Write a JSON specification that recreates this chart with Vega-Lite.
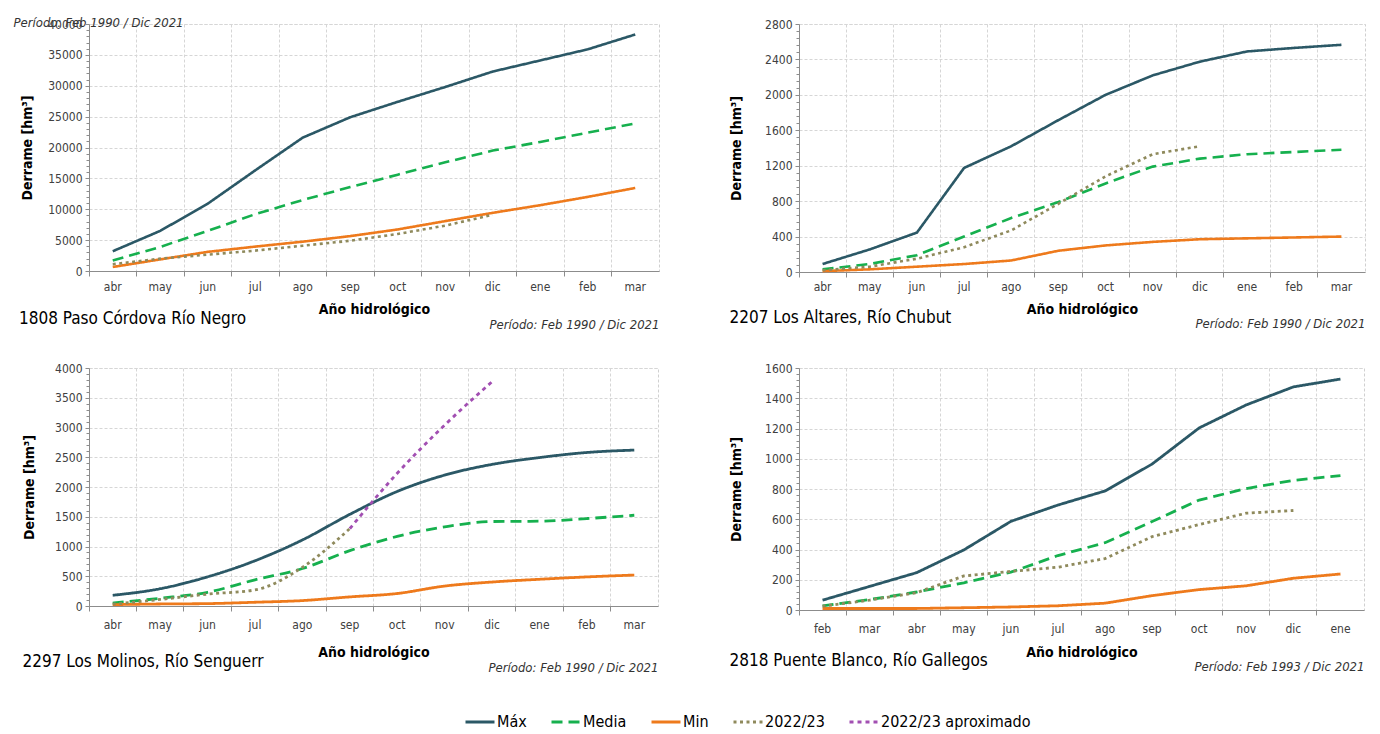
{
  "$schema": "https://vega.github.io/schema/vega-lite/v6.json",
  "padding": {"left": 12, "top": 15, "right": 5, "bottom": 5},
  "background": "white",
  "spacing": 29,
  "datasets": {
    "p1": [
      {"mes": "abr", "serie": "Máx", "v": 3200}, {"mes": "may", "serie": "Máx", "v": 6500}, {"mes": "jun", "serie": "Máx", "v": 10900}, {"mes": "jul", "serie": "Máx", "v": 16300}, {"mes": "ago", "serie": "Máx", "v": 21600}, {"mes": "sep", "serie": "Máx", "v": 24900}, {"mes": "oct", "serie": "Máx", "v": 27400}, {"mes": "nov", "serie": "Máx", "v": 29800}, {"mes": "dic", "serie": "Máx", "v": 32300}, {"mes": "ene", "serie": "Máx", "v": 34100}, {"mes": "feb", "serie": "Máx", "v": 35900}, {"mes": "mar", "serie": "Máx", "v": 38300},
      {"mes": "abr", "serie": "Media", "v": 1700}, {"mes": "may", "serie": "Media", "v": 3900}, {"mes": "jun", "serie": "Media", "v": 6500}, {"mes": "jul", "serie": "Media", "v": 9200}, {"mes": "ago", "serie": "Media", "v": 11500}, {"mes": "sep", "serie": "Media", "v": 13600}, {"mes": "oct", "serie": "Media", "v": 15600}, {"mes": "nov", "serie": "Media", "v": 17600}, {"mes": "dic", "serie": "Media", "v": 19500}, {"mes": "ene", "serie": "Media", "v": 20900}, {"mes": "feb", "serie": "Media", "v": 22400}, {"mes": "mar", "serie": "Media", "v": 23900},
      {"mes": "abr", "serie": "Min", "v": 650}, {"mes": "may", "serie": "Min", "v": 1880}, {"mes": "jun", "serie": "Min", "v": 3100}, {"mes": "jul", "serie": "Min", "v": 3950}, {"mes": "ago", "serie": "Min", "v": 4750}, {"mes": "sep", "serie": "Min", "v": 5650}, {"mes": "oct", "serie": "Min", "v": 6730}, {"mes": "nov", "serie": "Min", "v": 8080}, {"mes": "dic", "serie": "Min", "v": 9420}, {"mes": "ene", "serie": "Min", "v": 10660}, {"mes": "feb", "serie": "Min", "v": 12000}, {"mes": "mar", "serie": "Min", "v": 13450},
      {"mes": "abr", "serie": "2022/23", "v": 1100}, {"mes": "may", "serie": "2022/23", "v": 2000}, {"mes": "jun", "serie": "2022/23", "v": 2650}, {"mes": "jul", "serie": "2022/23", "v": 3300}, {"mes": "ago", "serie": "2022/23", "v": 4100}, {"mes": "sep", "serie": "2022/23", "v": 4900}, {"mes": "oct", "serie": "2022/23", "v": 6000}, {"mes": "nov", "serie": "2022/23", "v": 7350}, {"mes": "dic", "serie": "2022/23", "v": 9100}
    ],
    "p2": [
      {"mes": "abr", "serie": "Máx", "v": 90}, {"mes": "may", "serie": "Máx", "v": 255}, {"mes": "jun", "serie": "Máx", "v": 445}, {"mes": "jul", "serie": "Máx", "v": 1175}, {"mes": "ago", "serie": "Máx", "v": 1420}, {"mes": "sep", "serie": "Máx", "v": 1715}, {"mes": "oct", "serie": "Máx", "v": 2000}, {"mes": "nov", "serie": "Máx", "v": 2220}, {"mes": "dic", "serie": "Máx", "v": 2375}, {"mes": "ene", "serie": "Máx", "v": 2490}, {"mes": "feb", "serie": "Máx", "v": 2530}, {"mes": "mar", "serie": "Máx", "v": 2565},
      {"mes": "abr", "serie": "Media", "v": 30}, {"mes": "may", "serie": "Media", "v": 90}, {"mes": "jun", "serie": "Media", "v": 190}, {"mes": "jul", "serie": "Media", "v": 400}, {"mes": "ago", "serie": "Media", "v": 610}, {"mes": "sep", "serie": "Media", "v": 790}, {"mes": "oct", "serie": "Media", "v": 1000}, {"mes": "nov", "serie": "Media", "v": 1190}, {"mes": "dic", "serie": "Media", "v": 1280}, {"mes": "ene", "serie": "Media", "v": 1330}, {"mes": "feb", "serie": "Media", "v": 1355}, {"mes": "mar", "serie": "Media", "v": 1380},
      {"mes": "abr", "serie": "Min", "v": 10}, {"mes": "may", "serie": "Min", "v": 30}, {"mes": "jun", "serie": "Min", "v": 60}, {"mes": "jul", "serie": "Min", "v": 90}, {"mes": "ago", "serie": "Min", "v": 130}, {"mes": "sep", "serie": "Min", "v": 240}, {"mes": "oct", "serie": "Min", "v": 300}, {"mes": "nov", "serie": "Min", "v": 340}, {"mes": "dic", "serie": "Min", "v": 370}, {"mes": "ene", "serie": "Min", "v": 380}, {"mes": "feb", "serie": "Min", "v": 390}, {"mes": "mar", "serie": "Min", "v": 400},
      {"mes": "abr", "serie": "2022/23", "v": 20}, {"mes": "may", "serie": "2022/23", "v": 60}, {"mes": "jun", "serie": "2022/23", "v": 150}, {"mes": "jul", "serie": "2022/23", "v": 280}, {"mes": "ago", "serie": "2022/23", "v": 470}, {"mes": "sep", "serie": "2022/23", "v": 770}, {"mes": "oct", "serie": "2022/23", "v": 1080}, {"mes": "nov", "serie": "2022/23", "v": 1330}, {"mes": "dic", "serie": "2022/23", "v": 1420}
    ],
    "p3": [
      {"mes": "abr", "serie": "Máx", "v": 180}, {"mes": "may", "serie": "Máx", "v": 290}, {"mes": "jun", "serie": "Máx", "v": 490}, {"mes": "jul", "serie": "Máx", "v": 760}, {"mes": "ago", "serie": "Máx", "v": 1110}, {"mes": "sep", "serie": "Máx", "v": 1540}, {"mes": "oct", "serie": "Máx", "v": 1925}, {"mes": "nov", "serie": "Máx", "v": 2200}, {"mes": "dic", "serie": "Máx", "v": 2380}, {"mes": "ene", "serie": "Máx", "v": 2495}, {"mes": "feb", "serie": "Máx", "v": 2580}, {"mes": "mar", "serie": "Máx", "v": 2620},
      {"mes": "abr", "serie": "Media", "v": 50}, {"mes": "may", "serie": "Media", "v": 130}, {"mes": "jun", "serie": "Media", "v": 230}, {"mes": "jul", "serie": "Media", "v": 440}, {"mes": "ago", "serie": "Media", "v": 630}, {"mes": "sep", "serie": "Media", "v": 930}, {"mes": "oct", "serie": "Media", "v": 1170}, {"mes": "nov", "serie": "Media", "v": 1330}, {"mes": "dic", "serie": "Media", "v": 1420}, {"mes": "ene", "serie": "Media", "v": 1425}, {"mes": "feb", "serie": "Media", "v": 1470}, {"mes": "mar", "serie": "Media", "v": 1525},
      {"mes": "abr", "serie": "Min", "v": 23}, {"mes": "may", "serie": "Min", "v": 34}, {"mes": "jun", "serie": "Min", "v": 40}, {"mes": "jul", "serie": "Min", "v": 63}, {"mes": "ago", "serie": "Min", "v": 91}, {"mes": "sep", "serie": "Min", "v": 153}, {"mes": "oct", "serie": "Min", "v": 210}, {"mes": "nov", "serie": "Min", "v": 335}, {"mes": "dic", "serie": "Min", "v": 403}, {"mes": "ene", "serie": "Min", "v": 449}, {"mes": "feb", "serie": "Min", "v": 489}, {"mes": "mar", "serie": "Min", "v": 520},
      {"mes": "abr", "serie": "2022/23", "v": 30}, {"mes": "may", "serie": "2022/23", "v": 110}, {"mes": "jun", "serie": "2022/23", "v": 200}, {"mes": "jul", "serie": "2022/23", "v": 270}, {"mes": "ago", "serie": "2022/23", "v": 650}, {"mes": "sep", "serie": "2022/23", "v": 1300},
      {"mes": "sep", "serie": "2022/23 aproximado", "v": 1300}, {"mes": "oct", "serie": "2022/23 aproximado", "v": 2230}, {"mes": "nov", "serie": "2022/23 aproximado", "v": 3040}, {"mes": "dic", "serie": "2022/23 aproximado", "v": 3770}
    ],
    "p4": [
      {"mes": "feb", "serie": "Máx", "v": 65}, {"mes": "mar", "serie": "Máx", "v": 156}, {"mes": "abr", "serie": "Máx", "v": 247}, {"mes": "may", "serie": "Máx", "v": 397}, {"mes": "jun", "serie": "Máx", "v": 586}, {"mes": "jul", "serie": "Máx", "v": 694}, {"mes": "ago", "serie": "Máx", "v": 787}, {"mes": "sep", "serie": "Máx", "v": 965}, {"mes": "oct", "serie": "Máx", "v": 1204}, {"mes": "nov", "serie": "Máx", "v": 1356}, {"mes": "dic", "serie": "Máx", "v": 1475}, {"mes": "ene", "serie": "Máx", "v": 1527},
      {"mes": "feb", "serie": "Media", "v": 28}, {"mes": "mar", "serie": "Media", "v": 69}, {"mes": "abr", "serie": "Media", "v": 119}, {"mes": "may", "serie": "Media", "v": 180}, {"mes": "jun", "serie": "Media", "v": 250}, {"mes": "jul", "serie": "Media", "v": 360}, {"mes": "ago", "serie": "Media", "v": 445}, {"mes": "sep", "serie": "Media", "v": 585}, {"mes": "oct", "serie": "Media", "v": 727}, {"mes": "nov", "serie": "Media", "v": 803}, {"mes": "dic", "serie": "Media", "v": 857}, {"mes": "ene", "serie": "Media", "v": 889},
      {"mes": "feb", "serie": "Min", "v": 10}, {"mes": "mar", "serie": "Min", "v": 10}, {"mes": "abr", "serie": "Min", "v": 10}, {"mes": "may", "serie": "Min", "v": 15}, {"mes": "jun", "serie": "Min", "v": 20}, {"mes": "jul", "serie": "Min", "v": 28}, {"mes": "ago", "serie": "Min", "v": 45}, {"mes": "sep", "serie": "Min", "v": 95}, {"mes": "oct", "serie": "Min", "v": 135}, {"mes": "nov", "serie": "Min", "v": 160}, {"mes": "dic", "serie": "Min", "v": 210}, {"mes": "ene", "serie": "Min", "v": 238},
      {"mes": "feb", "serie": "2022/23", "v": 25}, {"mes": "mar", "serie": "2022/23", "v": 65}, {"mes": "abr", "serie": "2022/23", "v": 115}, {"mes": "may", "serie": "2022/23", "v": 225}, {"mes": "jun", "serie": "2022/23", "v": 255}, {"mes": "jul", "serie": "2022/23", "v": 283}, {"mes": "ago", "serie": "2022/23", "v": 340}, {"mes": "sep", "serie": "2022/23", "v": 485}, {"mes": "oct", "serie": "2022/23", "v": 565}, {"mes": "nov", "serie": "2022/23", "v": 640}, {"mes": "dic", "serie": "2022/23", "v": 658}
    ]
  },
  "vconcat": [
    {
      "bounds": "flush",
      "spacing": 140,
      "hconcat": [
        {
          "width": 570, "height": 247,
          "data": {"name": "p1"},
          "title": {"text": "1808 Paso Córdova Río Negro", "orient": "bottom", "anchor": "start", "offset": -20, "dx": 6},
          "layer": [
            {
              "mark": {"type": "line", "strokeWidth": 2.6},
              "encoding": {
                "x": {"field": "mes", "type": "ordinal", "bandPosition": 0.5, "scale": {"type": "band", "domain": ["abr","may","jun","jul","ago","sep","oct","nov","dic","ene","feb","mar"], "paddingInner": 0, "paddingOuter": 0}, "axis": {"orient": "bottom", "grid": false, "ticks": false, "labelPadding": 10, "labelAngle": 0, "title": "Año hidrológico", "titlePadding": 10}},
                "y": {"field": "v", "type": "quantitative", "scale": {"domain": [0, 40000], "nice": false}, "axis": {"orient": "left", "values": [0,5000,10000,15000,20000,25000,30000,35000,40000], "format": "d", "title": "Derrame [hm³]", "titlePadding": 13}},
                "color": {"field": "serie", "type": "nominal", "scale": {"domain": ["Máx","Media","Min","2022/23","2022/23 aproximado"], "range": ["#2b5866","#16b04e","#ee7a1c","#8f8a5c","#a24fb2"]}, "legend": {"title": null}},
                "strokeDash": {"field": "serie", "type": "nominal", "scale": {"domain": ["Máx","Media","Min","2022/23","2022/23 aproximado"], "range": [[1,0],[11,6],[1,0],[3,3.5],[4,4]]}, "legend": {"title": null}}
              }
            },
            {
              "mark": {"type": "point", "opacity": 0},
              "encoding": {
                "x": {"field": "mes", "type": "ordinal", "scale": {"type": "band", "domain": ["abr","may","jun","jul","ago","sep","oct","nov","dic","ene","feb","mar"], "paddingInner": 0, "paddingOuter": 0}, "axis": {"orient": "bottom", "bandPosition": 0, "labels": false, "domain": false, "grid": true, "ticks": true, "tickSize": 5, "title": "Período: Feb 1990 / Dic 2021", "titleAnchor": "end", "titleFontStyle": "italic", "titleFontWeight": "normal", "titleFontSize": 13, "titleColor": "#333", "titleBaseline": "top", "titleY": 47}},
                "y": {"field": "v", "type": "quantitative", "scale": {"domain": [0, 40000], "nice": false}, "axis": {"orient": "left", "values": [1000,2000,3000,4000,6000,7000,8000,9000,11000,12000,13000,14000,16000,17000,18000,19000,21000,22000,23000,24000,26000,27000,28000,29000,31000,32000,33000,34000,36000,37000,38000,39000], "labels": false, "grid": false, "domain": false, "tickSize": 3, "title": null}}
              }
            },
            {
              "mark": {"type": "point", "opacity": 0},
              "encoding": {
                "x": {"field": "mes", "type": "ordinal", "scale": {"type": "band", "domain": ["abr","may","jun","jul","ago","sep","oct","nov","dic","ene","feb","mar"], "paddingInner": 0, "paddingOuter": 0}, "axis": {"orient": "top", "labels": false, "domain": false, "grid": false, "ticks": false, "title": "Período: Feb 1990 / Dic 2021", "titleAnchor": "start", "titleAlign": "left", "titleX": -76, "titleY": -2, "titleBaseline": "middle", "titleFontStyle": "italic", "titleFontWeight": "normal", "titleFontSize": 13, "titleColor": "#333"}},
                "y": {"field": "v", "type": "quantitative", "scale": {"domain": [0, 40000], "nice": false}, "axis": null}
              }
            }
          ],
          "resolve": {"axis": {"x": "independent", "y": "independent"}}
        },
        {
          "width": 566, "height": 248,
          "data": {"name": "p2"},
          "title": {"text": "2207 Los Altares, Río Chubut", "orient": "bottom", "anchor": "start", "offset": -20},
          "layer": [
            {
              "mark": {"type": "line", "strokeWidth": 2.6},
              "encoding": {
                "x": {"field": "mes", "type": "ordinal", "bandPosition": 0.5, "scale": {"type": "band", "domain": ["abr","may","jun","jul","ago","sep","oct","nov","dic","ene","feb","mar"], "paddingInner": 0, "paddingOuter": 0}, "axis": {"orient": "bottom", "grid": false, "ticks": false, "labelPadding": 9, "labelAngle": 0, "title": "Año hidrológico", "titlePadding": 10}},
                "y": {"field": "v", "type": "quantitative", "scale": {"domain": [0, 2800], "nice": false}, "axis": {"orient": "left", "values": [0,400,800,1200,1600,2000,2400,2800], "format": "d", "title": "Derrame [hm³]", "titlePadding": 21}},
                "color": {"field": "serie", "type": "nominal", "scale": {"domain": ["Máx","Media","Min","2022/23","2022/23 aproximado"], "range": ["#2b5866","#16b04e","#ee7a1c","#8f8a5c","#a24fb2"]}, "legend": {"title": null}},
                "strokeDash": {"field": "serie", "type": "nominal", "scale": {"domain": ["Máx","Media","Min","2022/23","2022/23 aproximado"], "range": [[1,0],[11,6],[1,0],[3,3.5],[4,4]]}, "legend": {"title": null}}
              }
            },
            {
              "mark": {"type": "point", "opacity": 0},
              "encoding": {
                "x": {"field": "mes", "type": "ordinal", "scale": {"type": "band", "domain": ["abr","may","jun","jul","ago","sep","oct","nov","dic","ene","feb","mar"], "paddingInner": 0, "paddingOuter": 0}, "axis": {"orient": "bottom", "bandPosition": 0, "labels": false, "domain": false, "grid": true, "ticks": true, "tickSize": 5, "title": "Período: Feb 1990 / Dic 2021", "titleAnchor": "end", "titleFontStyle": "italic", "titleFontWeight": "normal", "titleFontSize": 13, "titleColor": "#333", "titleBaseline": "top", "titleY": 45}},
                "y": {"field": "v", "type": "quantitative", "scale": {"domain": [0, 2800], "nice": false}, "axis": {"orient": "left", "values": [80,160,240,320,480,560,640,720,880,960,1040,1120,1280,1360,1440,1520,1680,1760,1840,1920,2080,2160,2240,2320,2480,2560,2640,2720], "labels": false, "grid": false, "domain": false, "tickSize": 3, "title": null}}
              }
            }
          ],
          "resolve": {"axis": {"x": "independent", "y": "independent"}}
        }
      ]
    },
    {
      "bounds": "flush",
      "spacing": 141,
      "hconcat": [
        {
          "width": 569, "height": 238,
          "data": {"name": "p3"},
          "title": {"text": "2297 Los Molinos, Río Senguerr", "orient": "bottom", "anchor": "start", "offset": -20},
          "layer": [
            {
              "mark": {"type": "line", "strokeWidth": 2.8, "interpolate": "monotone"},
              "encoding": {
                "x": {"field": "mes", "type": "ordinal", "bandPosition": 0.5, "scale": {"type": "band", "domain": ["abr","may","jun","jul","ago","sep","oct","nov","dic","ene","feb","mar"], "paddingInner": 0, "paddingOuter": 0}, "axis": {"orient": "bottom", "grid": false, "ticks": false, "labelPadding": 13, "labelAngle": 0, "title": "Año hidrológico", "titlePadding": 15}},
                "y": {"field": "v", "type": "quantitative", "scale": {"domain": [0, 4000], "nice": false}, "axis": {"orient": "left", "values": [0,500,1000,1500,2000,2500,3000,3500,4000], "format": "d", "title": "Derrame [hm³]", "titlePadding": 18}},
                "color": {"field": "serie", "type": "nominal", "scale": {"domain": ["Máx","Media","Min","2022/23","2022/23 aproximado"], "range": ["#2b5866","#16b04e","#ee7a1c","#8f8a5c","#a24fb2"]}, "legend": {"title": null}},
                "strokeDash": {"field": "serie", "type": "nominal", "scale": {"domain": ["Máx","Media","Min","2022/23","2022/23 aproximado"], "range": [[1,0],[11,6],[1,0],[3,3.5],[4,4]]}, "legend": {"title": null}}
              }
            },
            {
              "mark": {"type": "point", "opacity": 0},
              "encoding": {
                "x": {"field": "mes", "type": "ordinal", "scale": {"type": "band", "domain": ["abr","may","jun","jul","ago","sep","oct","nov","dic","ene","feb","mar"], "paddingInner": 0, "paddingOuter": 0}, "axis": {"orient": "bottom", "bandPosition": 0, "labels": false, "domain": false, "grid": true, "ticks": true, "tickSize": 5, "title": "Período: Feb 1990 / Dic 2021", "titleAnchor": "end", "titleFontStyle": "italic", "titleFontWeight": "normal", "titleFontSize": 13, "titleColor": "#333", "titleBaseline": "top", "titleY": 55}},
                "y": {"field": "v", "type": "quantitative", "scale": {"domain": [0, 4000], "nice": false}, "axis": {"orient": "left", "values": [100,200,300,400,600,700,800,900,1100,1200,1300,1400,1600,1700,1800,1900,2100,2200,2300,2400,2600,2700,2800,2900,3100,3200,3300,3400,3600,3700,3800,3900], "labels": false, "grid": false, "domain": false, "tickSize": 3, "title": null}}
              }
            }
          ],
          "resolve": {"axis": {"x": "independent", "y": "independent"}}
        },
        {
          "width": 565, "height": 242,
          "data": {"name": "p4"},
          "title": {"text": "2818 Puente Blanco, Río Gallegos", "orient": "bottom", "anchor": "start", "offset": -20},
          "layer": [
            {
              "mark": {"type": "line", "strokeWidth": 2.8},
              "encoding": {
                "x": {"field": "mes", "type": "ordinal", "bandPosition": 0.5, "scale": {"type": "band", "domain": ["feb","mar","abr","may","jun","jul","ago","sep","oct","nov","dic","ene"], "paddingInner": 0, "paddingOuter": 0}, "axis": {"orient": "bottom", "grid": false, "ticks": false, "labelPadding": 13, "labelAngle": 0, "title": "Año hidrológico", "titlePadding": 11}},
                "y": {"field": "v", "type": "quantitative", "scale": {"domain": [0, 1600], "nice": false}, "axis": {"orient": "left", "values": [0,200,400,600,800,1000,1200,1400,1600], "format": "d", "title": "Derrame [hm³]", "titlePadding": 21}},
                "color": {"field": "serie", "type": "nominal", "scale": {"domain": ["Máx","Media","Min","2022/23","2022/23 aproximado"], "range": ["#2b5866","#16b04e","#ee7a1c","#8f8a5c","#a24fb2"]}, "legend": {"title": null}},
                "strokeDash": {"field": "serie", "type": "nominal", "scale": {"domain": ["Máx","Media","Min","2022/23","2022/23 aproximado"], "range": [[1,0],[11,6],[1,0],[3,3.5],[4,4]]}, "legend": {"title": null}}
              }
            },
            {
              "mark": {"type": "point", "opacity": 0},
              "encoding": {
                "x": {"field": "mes", "type": "ordinal", "scale": {"type": "band", "domain": ["feb","mar","abr","may","jun","jul","ago","sep","oct","nov","dic","ene"], "paddingInner": 0, "paddingOuter": 0}, "axis": {"orient": "bottom", "bandPosition": 0, "labels": false, "domain": false, "grid": true, "ticks": true, "tickSize": 5, "title": "Período: Feb 1993 / Dic 2021", "titleAnchor": "end", "titleFontStyle": "italic", "titleFontWeight": "normal", "titleFontSize": 13, "titleColor": "#333", "titleBaseline": "top", "titleY": 50}},
                "y": {"field": "v", "type": "quantitative", "scale": {"domain": [0, 1600], "nice": false}, "axis": {"orient": "left", "values": [40,80,120,160,240,280,320,360,440,480,520,560,640,680,720,760,840,880,920,960,1040,1080,1120,1160,1240,1280,1320,1360,1440,1480,1520,1560], "labels": false, "grid": false, "domain": false, "tickSize": 3, "title": null}}
              }
            }
          ],
          "resolve": {"axis": {"x": "independent", "y": "independent"}}
        }
      ]
    }
  ],
  "config": {
    "font": "Liberation Sans Narrow, DejaVu Sans Condensed, Liberation Sans, sans-serif",
    "view": {"stroke": "#d0d0d0", "strokeDash": [3, 2]},
    "axis": {"labelFontSize": 12, "labelColor": "#404040", "domainColor": "#8c8c8c", "tickColor": "#8c8c8c", "gridColor": "#d6d6d6", "gridDash": [3, 2], "titleColor": "#000000", "titleFontSize": 14, "titleFontWeight": "bold"},
    "axisY": {"tickSize": 4, "labelPadding": 3, "grid": true},
    "title": {"fontSize": 17, "fontWeight": "normal", "color": "#000000"},
    "legend": {"orient": "none", "legendX": 375, "legendY": 682, "direction": "horizontal", "symbolType": "stroke", "symbolStrokeWidth": 3, "symbolSize": 841, "labelFontSize": 16, "labelColor": "#000000", "labelOffset": 1, "columnPadding": 18}
  }
}
